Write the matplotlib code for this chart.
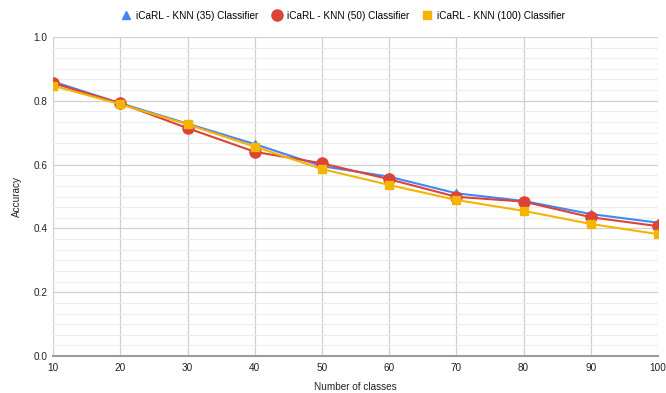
import numpy as np
import matplotlib
matplotlib.use("Agg")
import matplotlib.pyplot as plt
from matplotlib.ticker import MultipleLocator, FormatStrFormatter

plt.rcParams['font.family'] = ['Liberation Sans', 'DejaVu Sans']

classes = [10, 20, 30, 40, 50, 60, 70, 80, 90, 100]
knn35 = [0.860, 0.792, 0.728, 0.664, 0.595, 0.562, 0.510, 0.486, 0.445, 0.418]
knn50 = [0.855, 0.792, 0.714, 0.640, 0.604, 0.554, 0.499, 0.484, 0.435, 0.407]
knn100 = [0.847, 0.789, 0.726, 0.656, 0.586, 0.536, 0.489, 0.455, 0.414, 0.382]

labels = ["iCaRL - KNN (35) Classifier", "iCaRL - KNN (50) Classifier",
          "iCaRL - KNN (100) Classifier"]

fig = plt.figure(figsize=(6.66, 3.93), dpi=100)
ax = fig.add_axes([0.080, 0.094, 0.908, 0.812])

ax.plot(classes, knn35, color="#4285F4", lw=1.5, marker="^", ms=6,
        label=labels[0], zorder=3)
ax.plot(classes, knn50, color="#DB4437", lw=1.5, marker="o", ms=8,
        label=labels[1], zorder=4)
ax.plot(classes, knn100, color="#F4B400", lw=1.5, marker="s", ms=6,
        label=labels[2], zorder=5)

ax.set_xlim(10, 100)
ax.set_ylim(0, 1.0)
ax.set_xticks(classes)
ax.yaxis.set_major_locator(MultipleLocator(0.2))
ax.yaxis.set_minor_locator(MultipleLocator(0.2 / 6))
ax.yaxis.set_major_formatter(FormatStrFormatter("%.1f"))

ax.grid(which="major", color="#d0d0d0", lw=0.9)
ax.grid(which="minor", axis="y", color="#ececec", lw=0.8)
ax.set_axisbelow(True)
for s in ["top", "right", "left"]:
    ax.spines[s].set_visible(False)
ax.spines["bottom"].set_color("#9a9a9a")
ax.spines["bottom"].set_linewidth(1.5)
ax.tick_params(which="both", length=0, labelsize=7.2, colors="#222222", pad=4)
ax.tick_params(axis="x", pad=5)

ax.set_xlabel("Number of classes", fontsize=7.2, color="#222222")
ax.set_ylabel("Accuracy", fontsize=7.2, color="#222222")
ax.xaxis.set_label_coords(0.5, -0.08)
ax.yaxis.set_label_coords(-0.052, 0.5)

fig.legend(loc="upper center", bbox_to_anchor=(0.515, 0.995), ncol=3, frameon=False,
           fontsize=7.2, handlelength=1.0, columnspacing=1.3, handletextpad=0.5)
leg = fig.legends[0]
for h in leg.legend_handles:
    h.set_linestyle("none")

fig.savefig("out.png", dpi=100)
